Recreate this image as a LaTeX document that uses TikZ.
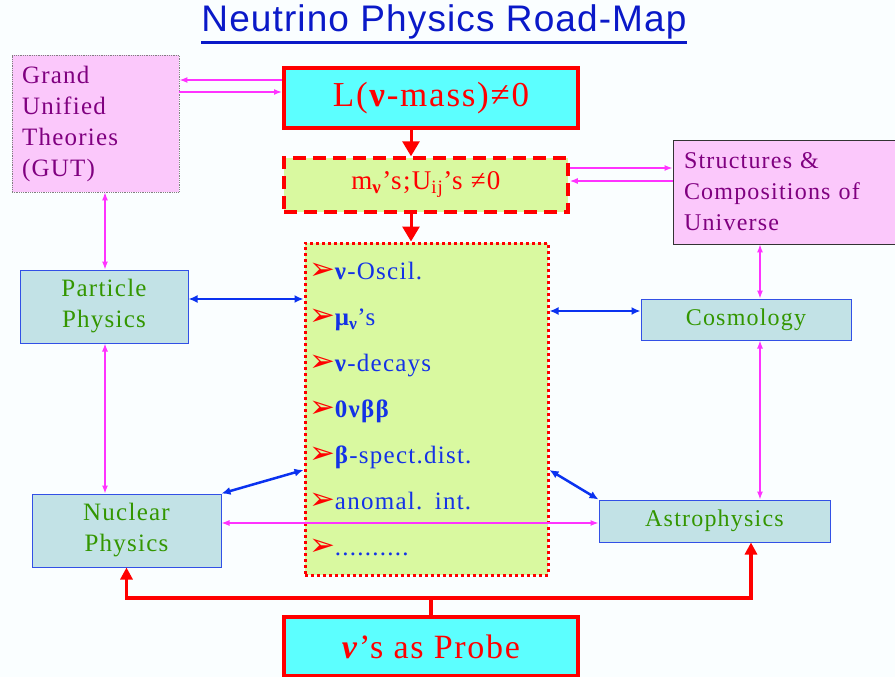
\documentclass[tikz,border=0pt]{standalone}
\usepackage{fontspec}
\setmainfont{Liberation Serif}[LetterSpace=5]
\newfontfamily\titlefont{Liberation Sans}[LetterSpace=3]
\newfontfamily\dingfont{DejaVu Sans}
\usepackage{xcolor}
\usetikzlibrary{arrows.meta}
\definecolor{bgwhite}{RGB}{250,254,255}
\definecolor{titleblue}{RGB}{10,25,200}
\definecolor{nucyan}{RGB}{92,255,255}
\definecolor{lgreen}{RGB}{217,249,160}
\definecolor{gutpink}{RGB}{251,200,251}
\definecolor{gutpurple}{RGB}{128,0,128}
\definecolor{physfill}{RGB}{194,226,230}
\definecolor{physblue}{RGB}{50,80,230}
\definecolor{physgreen}{RGB}{51,150,0}
\definecolor{itemblue}{RGB}{20,50,230}
\definecolor{magline}{RGB}{255,51,255}
\definecolor{blueline}{RGB}{10,50,240}

\newcommand{\bul}{{\color{red}\dingfont\fontsize{31}{31}\selectfont ➢}}

\begin{document}
\begin{tikzpicture}[x=1pt, y=-1pt,
    pinkbox/.style={fill=gutpink, text=gutpurple, align=left, inner xsep=10pt,
                    font=\fontsize{25}{31}\selectfont},
    cyanbox/.style={draw=red, line width=4pt, fill=nucyan, text=red,
                    minimum width=294pt, minimum height=60pt},
    physbox/.style={draw=physblue, line width=1pt, fill=physfill, text=physgreen,
                    align=center, font=\fontsize{25}{31}\selectfont},
    bigarr/.style={-{Triangle[length=15pt,width=17pt]}, red, line width=3pt},
    probearr/.style={-{Triangle[length=12pt,width=12pt]}, red, line width=3.5pt},
    magarr/.style={-{Latex[length=8pt,width=6pt]}, magline, line width=1.5pt},
    magboth/.style={{Latex[length=8pt,width=6pt]}-{Latex[length=8pt,width=6pt]}, magline, line width=1.2pt},
    bluarr/.style={{Latex[length=9pt,width=8pt]}-{Latex[length=9pt,width=8pt]}, blueline, line width=2.5pt}
  ]
    \path[use as bounding box, fill=bgwhite] (0,0) rectangle (895,677);
    % Title
    \node[font=\titlefont\fontsize{37}{40}\selectfont, text=titleblue, inner sep=0pt] (title) at (444,22) {Neutrino Physics Road-Map};
    \draw[titleblue, line width=2.5pt] ([yshift=-3pt]title.south west) -- ([yshift=-3pt]title.south east);
    % GUT
    \node[pinkbox, draw=gray, densely dotted, line width=0.8pt, text width=147pt,
          minimum height=137pt] (gut) at (95.5,123.5) {Grand\\Unified\\Theories\\(GUT)};
    % Lepton number
    \node[cyanbox, font=\fontsize{35}{40}\selectfont] (lmass) at (431,98) {L(\textbf{ν}-mass)≠0};
    % Masses and mixing
    \node[draw=red, dashed, dash pattern=on 13pt off 7pt, line width=3.5pt, fill=lgreen, text=red,
          minimum width=284pt, minimum height=54pt, font=\fontsize{27}{30}\selectfont]
          (mnu) at (426,185) {m\textsubscript{\textbf{ν}}’s;U\textsubscript{ij}’s ≠0};
    % Structures
    \node[pinkbox, draw=black!80, line width=0.8pt, text width=200pt, inner xsep=11pt,
          minimum height=104pt, font=\fontsize{24}{31}\selectfont] (struct) at (784,192)
          {Structures \&\\Compositions of\\Universe};
    % Observables
    \node[draw=red, line width=3pt, dash pattern=on 3pt off 3pt, fill=lgreen, text=itemblue,
          minimum width=243pt, minimum height=332pt, text width=235pt, inner xsep=4pt,
          align=left, font=\fontsize{25}{46}\selectfont] (list) at (426.5,409)
          {\bul\textbf{ν}-Oscil.\\
           \bul\textbf{μ\textsubscript{ν}}’s\\
           \bul\textbf{ν}-decays\\
           \bul\textbf{0νββ}\\
           \bul\textbf{β}-spect.dist.\\
           \bul anomal. int.\\
           \bul ..........};
    % Physics fields
    \node[physbox, minimum width=168pt, minimum height=73pt] (particle) at (104,306.5) {Particle\\Physics};
    \node[physbox, minimum width=210pt, minimum height=41pt, font=\fontsize{24}{30}\selectfont] (cosmo) at (746,319.5) {Cosmology};
    \node[physbox, minimum width=189pt, minimum height=73pt] (nuclear) at (126.5,530.5) {Nuclear\\Physics};
    \node[physbox, minimum width=231pt, minimum height=42pt, font=\fontsize{24}{30}\selectfont] (astro) at (714.5,521) {Astrophysics};
    % Probe
    \node[cyanbox, minimum height=59pt, font=\fontsize{34}{40}\selectfont] (probe) at (431,646.5) {\textbf{\textit{ν}}’s as Probe};
    % Levels
    \coordinate (yg1) at (0,80);
    \coordinate (yg2) at (0,92);
    \coordinate (ys1) at (0,168);
    \coordinate (ys2) at (0,181);
    \coordinate (yp) at (0,299);
    \coordinate (yc) at (0,311);
    \coordinate (yl) at (0,470);
    \coordinate (ya) at (0,523);
    \coordinate (xm) at (411,0);
    \coordinate (xp) at (105,0);
    \coordinate (xc) at (760,0);
    \coordinate (xa) at (751,0);
    \coordinate (fork) at (431,598);
    % Arrows
    \draw[magarr] (lmass.west |- yg1) -- (gut.east |- yg1);
    \draw[magarr] (gut.east |- yg2) -- (lmass.west |- yg2);
    \draw[bigarr] (xm |- lmass.south) -- (xm |- mnu.north);
    \draw[bigarr] (xm |- mnu.south) -- (xm |- list.north);
    \draw[magarr] (mnu.east |- ys1) -- (struct.west |- ys1);
    \draw[magarr] (struct.west |- ys2) -- (mnu.east |- ys2);
    \draw[magboth] (xp |- gut.south) -- (xp |- particle.north);
    \draw[magboth] (xp |- particle.south) -- (xp |- nuclear.north);
    \draw[magboth] (xc |- struct.south) -- (xc |- cosmo.north);
    \draw[magboth] (xc |- cosmo.south) -- (xc |- astro.north);
    \draw[bluarr] (particle.east |- yp) -- (list.west |- yp);
    \draw[bluarr] (list.east |- yc) -- (cosmo.west |- yc);
    \draw[bluarr] (nuclear.north east) -- (list.west |- yl);
    \draw[bluarr] (list.east |- yl) -- (astro.north west);
    \draw[magboth] (nuclear.east |- ya) -- (astro.west |- ya);
    \draw[red, line width=3.5pt] (probe.north) -- (fork);
    \draw[probearr] (fork) -| (nuclear.south);
    \draw[probearr] (fork) -| (xa |- astro.south);
  \end{tikzpicture}
\end{document}
